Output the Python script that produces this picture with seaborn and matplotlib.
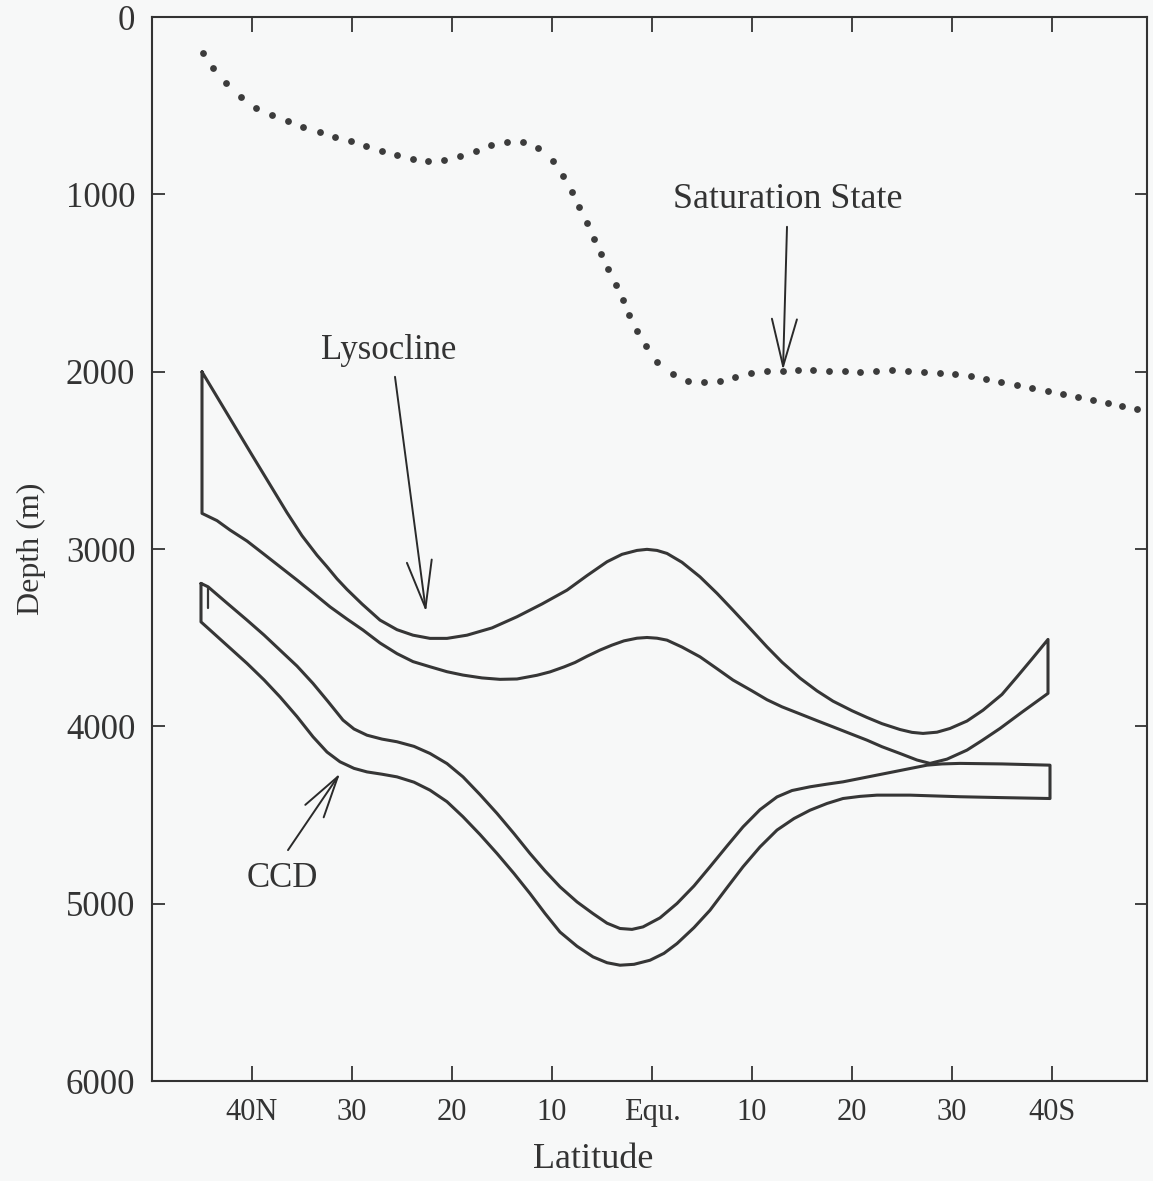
import numpy as np
import pandas as pd
import matplotlib
matplotlib.use("Agg")
import matplotlib.pyplot as plt
import seaborn as sns

# =====================================================
# DATA  (latitude: negative = north, positive = south)
# =====================================================

sat_lat = [-44.9, -43.9, -42.6, -41.1, -39.6, -38.0, -36.4, -34.9, -33.2, -31.7,
           -30.1, -28.6, -27.0, -25.5, -23.9, -22.4, -20.8, -19.2, -17.6, -16.1,
           -14.5, -12.9, -11.4, -9.9, -8.9, -8.0, -7.3, -6.5, -5.8, -5.1,
           -4.4, -3.6, -2.9, -2.3, -1.5, -0.6, 0.5, 2.1, 3.6, 5.2,
           6.8, 8.3, 9.9, 11.5, 13.1, 14.6, 16.1, 17.7, 19.3, 20.8,
           22.4, 24.0, 25.6, 27.2, 28.8, 30.3, 31.9, 33.4, 34.9, 36.5,
           38.0, 39.6, 41.1, 42.6, 44.1, 45.6, 47.0, 48.5]
sat_depth = [201, 289, 372, 451, 512, 553, 587, 619, 649, 675,
             699, 728, 756, 778, 799, 810, 807, 784, 754, 720,
             703, 703, 739, 812, 897, 985, 1073, 1164, 1250, 1335,
             1423, 1510, 1594, 1682, 1769, 1856, 1944, 2015, 2053, 2060,
             2051, 2030, 2008, 1997, 1995, 1991, 1989, 1995, 1998, 2001,
             1995, 1993, 1995, 2001, 2006, 2014, 2025, 2040, 2057, 2074,
             2092, 2109, 2126, 2145, 2162, 2177, 2194, 2209]

lys_top_lat = [-45.0, -40.0, -36.5, -35.0, -33.5, -32.5, -31.5, -30.5, -29.0, -27.2,
               -25.5, -23.9, -22.2, -20.5, -18.5, -16.0, -13.5, -11.0, -8.5, -6.5,
               -4.5, -3.0, -1.5, -0.5, 0.5, 1.5, 3.0, 4.8, 6.5, 8.1,
               10.0, 11.5, 13.0, 14.8, 16.5, 18.1, 20.0, 21.5, 23.0, 24.8,
               26.0, 27.1, 28.5, 29.8, 31.5, 33.1, 35.0, 36.5, 38.0, 39.6]
lys_top_depth = [2001, 2470, 2795, 2925, 3035, 3100, 3168, 3228, 3310, 3401,
                 3455, 3486, 3504, 3504, 3486, 3445, 3382, 3310, 3232, 3150,
                 3072, 3030, 3008, 3002, 3008, 3025, 3075, 3157, 3250, 3345,
                 3460, 3552, 3638, 3728, 3800, 3858, 3912, 3950, 3985, 4018,
                 4034, 4040, 4033, 4012, 3970, 3909, 3820, 3721, 3620, 3510]

lys_bot_lat = [-45.0, -43.5, -42.2, -40.5, -38.9, -37.2, -35.5, -33.8, -32.2, -30.5,
               -28.9, -27.2, -25.5, -23.9, -22.2, -20.5, -18.9, -17.0, -15.2, -13.5,
               -11.5, -10.2, -8.8, -7.7, -6.5, -5.2, -4.0, -2.8, -1.5, -0.5,
               0.5, 1.5, 3.0, 4.8, 6.5, 8.1, 10.0, 11.5, 13.0, 14.8,
               16.5, 18.1, 20.0, 21.5, 23.0, 24.8, 26.5, 27.8, 29.5, 31.5,
               33.0, 34.8, 37.0, 39.6]
lys_bot_depth = [2799, 2840, 2893, 2955, 3025, 3100, 3175, 3252, 3326, 3395,
                 3457, 3530, 3590, 3635, 3664, 3692, 3711, 3727, 3735, 3733,
                 3712, 3693, 3665, 3640, 3605, 3570, 3542, 3518, 3503, 3499,
                 3503, 3514, 3553, 3608, 3675, 3739, 3800, 3850, 3890, 3930,
                 3968, 4003, 4045, 4078, 4115, 4153, 4190, 4209, 4185, 4134,
                 4080, 4012, 3920, 3814]

ccd_top_lat = [-45.1, -44.4, -42.5, -40.5, -38.8, -37.2, -35.5, -33.9, -32.4, -30.9,
               -29.8, -28.5, -27.0, -25.5, -23.8, -22.2, -20.5, -18.9, -17.2, -15.5,
               -13.8, -12.2, -10.7, -9.2, -7.5, -5.9, -4.5, -3.2, -2.0, -0.9,
               0.8, 2.5, 4.2, 5.8, 7.5, 9.1, 10.8, 12.5, 14.0, 15.8,
               17.5, 19.1, 20.8, 22.5, 24.2, 25.8, 27.5, 29.0, 30.8, 35.0,
               39.8]
ccd_top_depth = [3194, 3213, 3305, 3401, 3485, 3570, 3660, 3758, 3860, 3965,
                 4015, 4050, 4072, 4087, 4113, 4153, 4210, 4285, 4385, 4491,
                 4605, 4717, 4815, 4905, 4990, 5056, 5110, 5140, 5145, 5131,
                 5080, 4999, 4900, 4792, 4675, 4567, 4470, 4398, 4362, 4341,
                 4326, 4313, 4294, 4275, 4256, 4238, 4219, 4212, 4209, 4212,
                 4219]

ccd_bot_lat = [-45.1, -42.8, -40.5, -38.8, -37.2, -35.5, -33.9, -32.5, -31.2, -29.8,
               -28.5, -27.0, -25.5, -23.8, -22.2, -20.5, -18.9, -17.2, -15.5, -13.8,
               -12.2, -10.7, -9.2, -7.5, -5.9, -4.5, -3.2, -1.8, -0.2, 1.2,
               2.5, 4.2, 5.8, 7.5, 9.1, 10.8, 12.5, 14.2, 15.8, 17.5,
               19.1, 20.8, 22.5, 25.8, 28.0, 30.8, 35.0, 39.8]
ccd_bot_depth = [3411, 3528, 3645, 3738, 3834, 3945, 4059, 4145, 4200, 4237,
                 4257, 4270, 4285, 4315, 4360, 4425, 4510, 4610, 4717, 4830,
                 4943, 5055, 5160, 5240, 5300, 5333, 5347, 5342, 5319, 5280,
                 5225, 5135, 5037, 4910, 4792, 4680, 4585, 4520, 4473, 4435,
                 4407, 4395, 4388, 4388, 4392, 4397, 4402, 4407]

ccd_cap_lat = [-44.4, -44.4]
ccd_cap_depth = [3213, 3330]

lat_ticks = [-40, -30, -20, -10, 0, 10, 20, 30, 40]
lat_labels = ["40N", "30", "20", "10", "Equ.", "10", "20", "30", "40S"]
depth_ticks = [0, 1000, 2000, 3000, 4000, 5000, 6000]

# =====================================================
# STYLE
# =====================================================

sns.set_theme(style="ticks")
plt.rcParams["font.family"] = ["Liberation Serif", "DejaVu Serif"]

BG = "#f7f8f8"
INK = "#363636"

fig = plt.figure(figsize=(11.53, 11.81), dpi=100, facecolor=BG)
ax = fig.add_axes([152 / 1153, 1 - 1081 / 1181, 995 / 1153, 1064 / 1181])
ax.set_facecolor(BG)


def closed(lat_a, dep_a, lat_b, dep_b):
    # outline: one curve, back along the other, closed
    lat = list(lat_a) + list(lat_b)[::-1] + [lat_a[0]]
    dep = list(dep_a) + list(dep_b)[::-1] + [dep_a[0]]
    return pd.DataFrame({"lat": lat, "depth": dep})


lys = closed(lys_top_lat, lys_top_depth, lys_bot_lat, lys_bot_depth)
ccd = closed(ccd_top_lat, ccd_top_depth, ccd_bot_lat, ccd_bot_depth)

for df in (lys, ccd):
    sns.lineplot(data=df, x="lat", y="depth", sort=False, estimator=None,
                 color=INK, lw=2.2, ax=ax)

sns.lineplot(x=ccd_cap_lat, y=ccd_cap_depth, sort=False, estimator=None,
             color=INK, lw=1.6, ax=ax)

sns.scatterplot(x=sat_lat, y=sat_depth, s=24, color="#3c3c3c",
                linewidth=0, ax=ax)

# =====================================================
# LABELS / ARROWS
# =====================================================

TXT = 25
arrow = dict(arrowstyle="->,head_length=3.4,head_width=0.9",
             mutation_scale=10, lw=1.4, color="#2a2a2a",
             shrinkA=0, shrinkB=0)

ax.text(13.6, 1030, "Saturation State", fontsize=26, ha="center",
        va="center", color="#333333")
ax.annotate("", xy=(13.1, 1991), xytext=(13.5, 1183), arrowprops=arrow)

ax.text(-26.3, 1880, "Lysocline", fontsize=TXT, ha="center",
        va="center", color="#333333")
ax.annotate("", xy=(-22.6, 3354), xytext=(-25.7, 2029), arrowprops=arrow)

ax.text(-37.0, 4860, "CCD", fontsize=TXT, ha="center",
        va="center", color="#333333")
ax.annotate("", xy=(-31.2, 4266), xytext=(-36.4, 4698),
            arrowprops=dict(arrow, arrowstyle="->,head_length=3.0,head_width=0.8"))

# =====================================================
# AXES
# =====================================================

ax.set_xlim(-50, 49.5)
ax.set_ylim(6000, 0)
ax.set_xticks(lat_ticks)
ax.set_xticklabels(lat_labels)
ax.set_yticks(depth_ticks)

ax.tick_params(axis="both", direction="in", top=True, right=True,
               colors="#333333", width=1.3)
ax.tick_params(axis="x", length=11, pad=12, labelsize=22)
ax.tick_params(axis="y", length=9, pad=12, labelsize=25)

for side in ax.spines.values():
    side.set_visible(True)
    side.set_color("#333333")
    side.set_linewidth(1.5)

ax.set_xlabel("Latitude", fontsize=26, color="#333333")
ax.set_ylabel("Depth (m)", fontsize=23, color="#333333")
ax.xaxis.set_label_coords(0.443, -0.058)
ax.yaxis.set_label_coords(-0.107, 0.5)

fig.savefig("out.png", dpi=100, facecolor=BG)
plt.close(fig)
